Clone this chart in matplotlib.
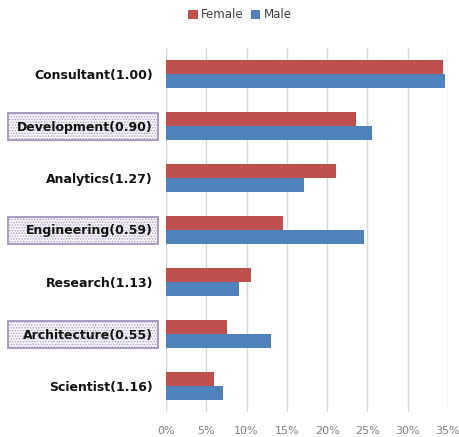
import matplotlib.pyplot as plt
import numpy as np
from matplotlib.patches import Rectangle

categories = ["Consultant(1.00)", "Development(0.90)", "Analytics(1.27)",
              "Engineering(0.59)", "Research(1.13)", "Architecture(0.55)",
              "Scientist(1.16)"]
female = [34.4, 23.6, 21.1, 14.5, 10.5, 7.6, 6.0]
male = [34.6, 25.6, 17.1, 24.6, 9.1, 13.0, 7.1]
boxed = ["Development(0.90)", "Engineering(0.59)", "Architecture(0.55)"]
xticks = [0, 5, 10, 15, 20, 25, 30, 35]

RED = "#C0504D"
BLUE = "#4F81BD"
plt.rcParams["hatch.color"] = "#DAD6E4"
plt.rcParams["hatch.linewidth"] = 0.6

fig = plt.figure(figsize=(4.59, 4.37), dpi=100)
ax = fig.add_axes([166 / 459, 1 - 412 / 437, (448 - 166) / 459, (412 - 48) / 437])

y = np.arange(len(categories))
h = 0.27
bf = ax.barh(y - h / 2, female, height=h, color=RED, label="Female", zorder=3)
bm = ax.barh(y + h / 2, male, height=h, color=BLUE, label="Male", zorder=3)

ax.set_xlim(0, 35)
ax.set_ylim(len(categories) - 0.5, -0.5)
ax.set_xticks(xticks)
ax.set_xticklabels([f"{t}%" for t in xticks], color="#7f7f7f", fontsize=8)
ax.xaxis.grid(True, color="#D9D9D9", linewidth=1.0, zorder=0)
ax.set_yticks([])
ax.tick_params(length=0, pad=10)
for s in ax.spines.values():
    s.set_visible(False)

# category labels, some set in a framed box
for yi, cat in zip(y, categories):
    yc = 1 - (49 + (yi + 0.5) * (364 / 7)) / 437
    if cat in boxed:
        box = Rectangle((8 / 459, yc - 13 / 437), 150 / 459, 27 / 437,
                        transform=fig.transFigure, facecolor="#F6F4F9",
                        edgecolor="#A99CC3", linewidth=1.2, hatch="......",
                        zorder=1)
        fig.patches.append(box)
        box2 = Rectangle((8 / 459, yc - 13 / 437), 150 / 459, 27 / 437,
                         transform=fig.transFigure, facecolor="none",
                         edgecolor="#A99CC3", linewidth=1.2, zorder=2)
        fig.patches.append(box2)
    fig.text(153 / 459, yc, cat, ha="right", va="center", fontsize=9,
             fontweight="bold", color="#111111", zorder=5)

fig.legend(handles=[bf, bm], labels=["Female", "Male"], loc="center",
           bbox_to_anchor=(240 / 459, 1 - 15 / 437), ncol=2, frameon=False,
           fontsize=8.5, handlelength=0.8, handleheight=0.8,
           handletextpad=0.3, columnspacing=0.6, labelcolor="#404040")

fig.savefig("out.png", dpi=100)
